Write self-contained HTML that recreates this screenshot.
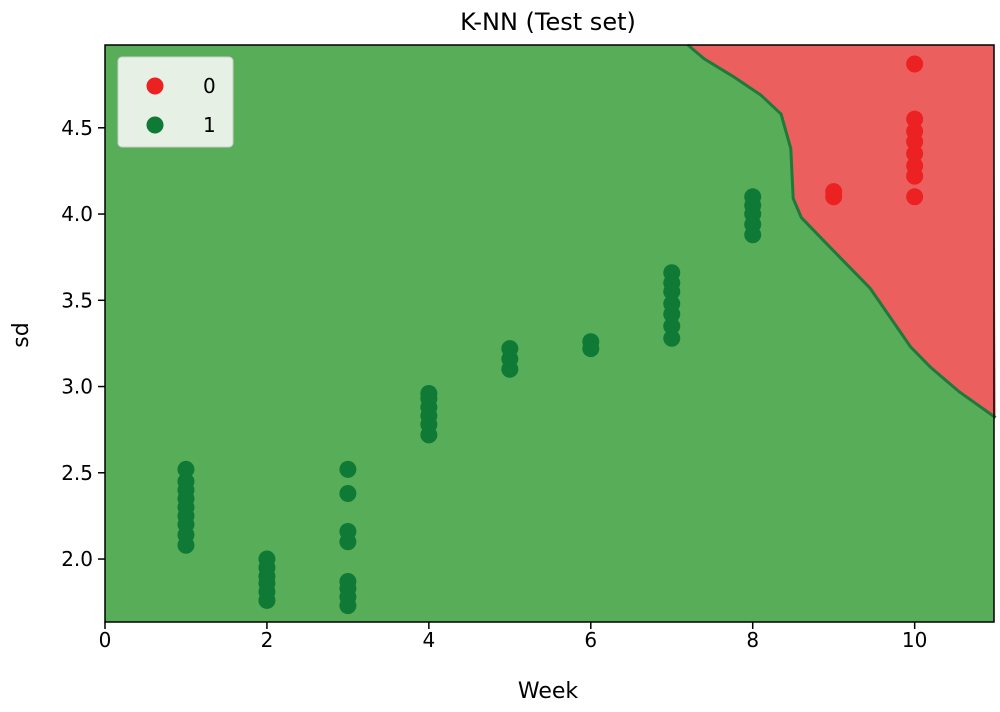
<!DOCTYPE html>
<html><head><meta charset="utf-8"><style>
body{margin:0;background:#fff;font-family:"Liberation Sans","DejaVu Sans",sans-serif;}
svg text{font-family:"DejaVu Sans","Liberation Sans",sans-serif;}
</style></head><body>
<svg id="chart" width="1000" height="707" xmlns="http://www.w3.org/2000/svg">
<text x="548" y="30" font-size="24" text-anchor="middle">K-NN (Test set)</text>
<g id="plot"></g>
<text x="548" y="698" font-size="22" text-anchor="middle">Week</text>
<text x="0" y="0" font-size="22" text-anchor="middle" transform="translate(28,335) rotate(-90)">sd</text>
</svg>
<script>
const xTicks=[0,2,4,6,8,10];
const yTicks=[2.0,2.5,3.0,3.5,4.0,4.5];
const boundaryX=[7.2,7.4,7.75,8.1,8.35,8.47,8.5,8.6,8.95,9.45,9.7,9.95,10.2,10.55,11];
const boundaryY=[4.98,4.9,4.8,4.69,4.58,4.38,4.09,3.98,3.81,3.57,3.4,3.23,3.11,2.97,2.82];
const class1Week=[1,1,1,1,1,1,1,1,1,2,2,2,2,2,2,3,3,3,3,3,3,3,3,4,4,4,4,4,4,5,5,5,6,6,7,7,7,7,7,7,7,8,8,8,8,8];
const class1Sd=[2.08,2.14,2.2,2.25,2.3,2.35,2.4,2.45,2.52,1.76,1.81,1.86,1.9,1.95,2.0,1.73,1.78,1.83,1.87,2.1,2.16,2.38,2.52,2.72,2.78,2.83,2.88,2.93,2.96,3.1,3.16,3.22,3.22,3.26,3.28,3.35,3.42,3.48,3.55,3.6,3.66,3.88,3.94,4.0,4.05,4.1];
const class0Week=[9,9,10,10,10,10,10,10,10,10];
const class0Sd=[4.1,4.13,4.1,4.22,4.28,4.35,4.42,4.48,4.55,4.87];
const L=105,R=994,T=45,B=622,xmin=0,xmax=10.98,ymin=1.635,ymax=4.98;
const sx=v=>L+(v-xmin)/(xmax-xmin)*(R-L);
const sy=v=>B-(v-ymin)/(ymax-ymin)*(B-T);
const NS="http://www.w3.org/2000/svg";
const g=document.getElementById('plot');
function mk(t,a){const e=document.createElementNS(NS,t);for(const k in a)e.setAttribute(k,a[k]);g.appendChild(e);return e;}
let e=mk('rect',{x:L,y:T,width:R-L,height:B-T,fill:'#58ad58'});


let pts=boundaryX.map((x,i)=>sx(x)+','+sy(boundaryY[i]));
e=mk('polygon',{points:pts.join(' ')+' '+R+','+T,fill:'#ec5f5f'});


e=mk('polyline',{points:pts.join(' '),fill:'none',stroke:'#1e7a3a','stroke-width':3});


e=mk('rect',{x:L,y:T,width:R-L,height:B-T,fill:'none',stroke:'#000','stroke-width':1.5});


class1Week.forEach((w,i)=>{const c=mk('circle',{cx:sx(w),cy:sy(class1Sd[i]),r:8.5,fill:'#0f7a35'});

});
class0Week.forEach((w,i)=>{const c=mk('circle',{cx:sx(w),cy:sy(class0Sd[i]),r:8.5,fill:'#ec2121'});

});
xTicks.forEach(v=>{mk('line',{x1:sx(v),x2:sx(v),y1:B,y2:B+7,stroke:'#000','stroke-width':1.5});
const t=mk('text',{x:sx(v),y:B+25,'font-size':20,'text-anchor':'middle'});t.textContent=v;

});
yTicks.forEach(v=>{mk('line',{x1:L-7,x2:L,y1:sy(v),y2:sy(v),stroke:'#000','stroke-width':1.5});
const t=mk('text',{x:L-12,y:sy(v)+7,'font-size':20,'text-anchor':'end'});t.textContent=v.toFixed(1);

});
e=mk('rect',{x:118,y:57,width:115,height:90,rx:4,fill:'#e6f0e4',stroke:'#ccc'});


[['0','#ec2121',86],['1','#0f7a35',125]].forEach(([lab,col,y])=>{
const c=mk('circle',{cx:155,cy:y,r:8.5,fill:col});


const t=mk('text',{x:203,y:y+7,'font-size':20});t.textContent=lab;

});
</script>
</body></html>
